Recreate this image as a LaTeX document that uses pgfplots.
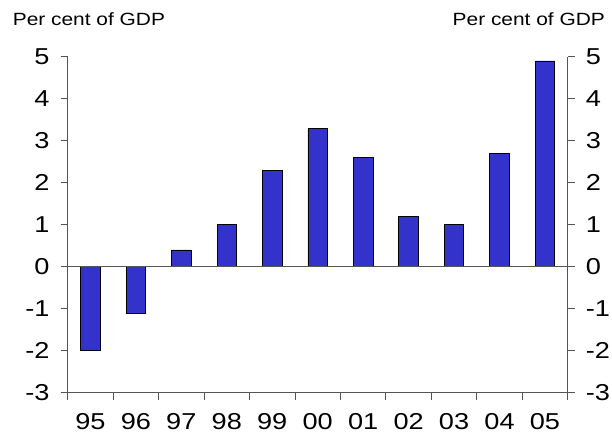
\documentclass[border=0pt]{standalone}
\usepackage{fontspec}
\setmainfont{Liberation Sans}[FakeStretch=1.18]
\usepackage{pgfplots}
\pgfplotsset{compat=1.18}
\definecolor{barblue}{RGB}{51,51,204}
\definecolor{axgray}{RGB}{85,85,85}
\begin{document}
\begin{tikzpicture}
\useasboundingbox (-67.7pt,-44.3pt) rectangle (544.3pt,392.7pt);
\pgfplotsset{
  common/.style={
    at={(0,0)}, anchor=south west,
    scale only axis, width=500pt, height=336pt,
    xmin=-0.5, xmax=10.5, ymin=-3, ymax=5,
    ytick={-3,-2,-1,0,1,2,3,4,5},
    yticklabels={-3,-2,-1,0,1,2,3,4,5},
    axis line style={axgray, line width=0.9pt},
    tick style={axgray, line width=0.9pt},
    major tick length=7pt,
    tick align=outside,
    ticklabel style={font=\fontsize{23}{26}\selectfont, inner sep=0pt},
  }
}
\begin{axis}[
  common,
  axis x line*=bottom, axis y line*=left,
  tick align=outside,
  xtick={-0.5,0.5,...,10.5},
  xticklabels={95,96,97,98,99,00,01,02,03,04,05,{}},
  xticklabel style={xshift=22.727pt, yshift=-14pt},
  yticklabel style={xshift=-11pt},
  ybar, bar width=19.5pt,
]
\addplot[fill=barblue, draw=black, line width=0.8pt, bar shift=0pt] coordinates {
  (0,-2.0) (1,-1.1) (2,0.4) (3,1.0) (4,2.3) (5,3.3)
  (6,2.6) (7,1.2) (8,1.0) (9,2.7) (10,4.9)
};
\draw[axgray, line width=0.9pt] (axis cs:-0.5,0) -- (axis cs:10.5,0);
\end{axis}
\begin{axis}[
  common,
  axis x line=none, axis y line*=right,
  tick align=outside,
  yticklabel pos=right,
  yticklabel style={xshift=11pt},
]
\addplot[draw=none] coordinates {(0,0)};
\end{axis}
\node[anchor=base west, inner sep=0pt, font=\fontsize{17.7}{20}\selectfont] at (-55pt,366.7pt) {Per cent of GDP};
\node[anchor=base east, inner sep=0pt, font=\fontsize{17.7}{20}\selectfont] at (537.3pt,366.7pt) {Per cent of GDP};
\end{tikzpicture}
\end{document}
